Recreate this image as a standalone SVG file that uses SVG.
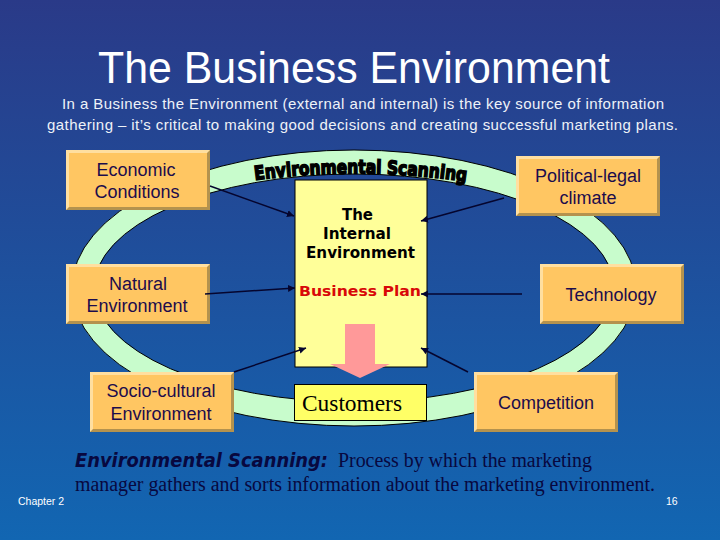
<svg xmlns="http://www.w3.org/2000/svg" width="720" height="540" viewBox="0 0 720 540">
<style>
.sans{font-family:"Liberation Sans",Arial,sans-serif}
.serif{font-family:"Liberation Serif","Times New Roman",serif}
.wide{font-family:"DejaVu Sans",Verdana,sans-serif;font-weight:bold}
.box{fill:#ffc662}
.hi{fill:#ffdfa0}
.lo{fill:#b4924e}
.lbl{font-family:"Liberation Sans",Arial,sans-serif;font-size:18px;fill:#1c0c4c;text-anchor:middle}
.conn{stroke:#05052e;stroke-width:1.5;fill:none;marker-end:url(#ah)}
.wh{fill:#fff}
.sub{fill:#eef2f8}
.bk{fill:#08083f}
</style>
<defs>
<linearGradient id="bg" x1="0" y1="0" x2="0" y2="1">
<stop offset="0" stop-color="#2a3a88"/>
<stop offset="1" stop-color="#1266b2"/>
</linearGradient>
<marker id="ah" markerUnits="userSpaceOnUse" markerWidth="8" markerHeight="8" refX="7" refY="4" orient="auto">
<path d="M0 .5L7 4L0 7.500Z" fill="#05052e"/>
</marker>
<path id="arc" d="M255 180Q360 166 468 182"/>
</defs>
<rect width="720" height="540" fill="url(#bg)"/>
<path id="ring" fill-rule="evenodd" fill="#c8fccc" stroke="#000" stroke-width="1" d="M72 288a282 138 0 1 0 564 0a282 138 0 1 0 -564 0ZM94 288a260 114 0 1 0 520 0a260 114 0 1 0 -520 0Z"/>
<text class="sans wh" x="98" y="83" font-size="45" textLength="512" lengthAdjust="spacingAndGlyphs">The Business Environment</text>
<text class="sans sub" x="62" y="109" font-size="15" textLength="602">In a Business the Environment (external and internal) is the key source of information</text>
<text class="sans sub" x="47" y="130" font-size="15" textLength="631">gathering – it’s critical to making good decisions and creating successful marketing plans.</text>
<g id="scanning-label">
<text class="wide" font-size="19" fill="#000" stroke="#000" stroke-width="1.6"><textPath href="#arc" textLength="212" lengthAdjust="spacingAndGlyphs">Environmental Scanning</textPath></text>
</g>
<g id="internal">
<rect x="295" y="180" width="132" height="187" fill="#ffff99" stroke="#000" stroke-width="1"/>
<g class="wide" fill="#000" font-size="15">
<text x="342" y="220" textLength="31" lengthAdjust="spacingAndGlyphs">The</text>
<text x="323" y="239" textLength="68" lengthAdjust="spacingAndGlyphs">Internal</text>
<text x="306" y="258" textLength="109" lengthAdjust="spacingAndGlyphs">Environment</text>
</g>
<text class="wide" x="299" y="296" font-size="14.500" fill="#d80808" textLength="122" lengthAdjust="spacingAndGlyphs">Business Plan</text>
</g>
<g id="flow-arrow">
<path d="M345 324H375V364H390L360 378L330 364H345Z" fill="#ff9999"/>
</g>
<g id="customers">
<rect x="294.500" y="384.500" width="132" height="36" fill="#ffff66" stroke="#000" stroke-width="1"/>
<text class="serif" x="302" y="411" font-size="23.500" fill="#000" textLength="100" lengthAdjust="spacingAndGlyphs">Customers</text>
</g>
<g id="economic">
<rect class="hi" x="66" y="150" width="144" height="60"/>
<path class="lo" d="M210 150V210H66L69 207H207V153Z"/>
<rect class="box" x="69" y="153" width="138" height="54"/>
<text class="lbl" x="136" y="176">Economic</text><text class="lbl" x="137" y="198">Conditions</text>
</g>
<g id="political">
<rect class="hi" x="516" y="156" width="144" height="60"/>
<path class="lo" d="M660 156V216H516L519 213H657V159Z"/>
<rect class="box" x="519" y="159" width="138" height="54"/>
<text class="lbl" x="588" y="182">Political-legal</text><text class="lbl" x="588" y="204">climate</text>
</g>
<g id="natural">
<rect class="hi" x="66" y="264" width="144" height="60"/>
<path class="lo" d="M210 264V324H66L69 321H207V267Z"/>
<rect class="box" x="69" y="267" width="138" height="54"/>
<text class="lbl" x="138" y="290">Natural</text><text class="lbl" x="137" y="312">Environment</text>
</g>
<g id="technology">
<rect class="hi" x="540" y="264" width="144" height="60"/>
<path class="lo" d="M684 264V324H540L543 321H681V267Z"/>
<rect class="box" x="543" y="267" width="138" height="54"/>
<text class="lbl" x="611" y="301">Technology</text>
</g>
<g id="socio">
<rect class="hi" x="90" y="372" width="144" height="60"/>
<path class="lo" d="M234 372V432H90L93 429H231V375Z"/>
<rect class="box" x="93" y="375" width="138" height="54"/>
<text class="lbl" x="161" y="397">Socio-cultural</text><text class="lbl" x="161" y="420">Environment</text>
</g>
<g id="competition">
<rect class="hi" x="474" y="372" width="144" height="60"/>
<path class="lo" d="M618 372V432H474L477 429H615V375Z"/>
<rect class="box" x="477" y="375" width="138" height="54"/>
<text class="lbl" x="546" y="409">Competition</text>
</g>
<g id="connectors">
<path class="conn" d="M210 186L294 216"/>
<path class="conn" d="M205 294L295 288"/>
<path class="conn" d="M504 198L421 221"/>
<path class="conn" d="M522 294L421 294"/>
<path class="conn" d="M234 372L306 348"/>
<path class="conn" d="M468 372L421 348"/>
</g>
<text class="wide bk" x="75" y="467" font-size="20" font-style="italic" textLength="253" lengthAdjust="spacingAndGlyphs">Environmental Scanning:</text>
<text class="serif bk" x="338" y="467" font-size="20" textLength="254" lengthAdjust="spacingAndGlyphs">Process by which the marketing</text>
<text class="serif bk" x="75" y="491" font-size="20" textLength="580" lengthAdjust="spacingAndGlyphs">manager gathers and sorts information about the marketing environment.</text>
<text class="sans wh" x="18" y="505" font-size="10.500">Chapter 2</text>
<text class="sans wh" x="666" y="505" font-size="10.500">16</text>
</svg>
